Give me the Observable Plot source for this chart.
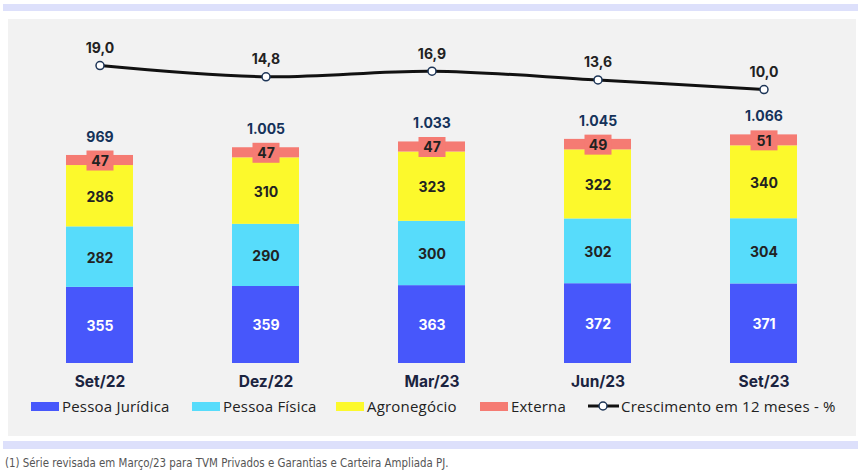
<!DOCTYPE html>
<html>
<head>
<meta charset="utf-8">
<script src="https://cdn.jsdelivr.net/npm/d3@7"></script>
<script src="https://cdn.jsdelivr.net/npm/@observablehq/plot@0.6"></script>
<style>
  html, body { margin: 0; padding: 0; background: #ffffff; }
  body { width: 862px; height: 475px; position: relative; overflow: hidden; font-family: "Open Sans", sans-serif; }
  .band { position: absolute; left: 3px; width: 855px; background: #dde0fb; }
  #panel { position: absolute; left: 8px; top: 19px; width: 848px; height: 417px; background: #f2f2f2; }
  #chart { position: absolute; left: 0; top: 0; }
  .leg { position: absolute; top: 378px; height: 18px; display: flex; align-items: center; font-size: 15px; color: #222; letter-spacing: 0.2px; white-space: nowrap; }
  .sw { width: 28px; height: 9px; margin-right: 3px; }
  #foot { position: absolute; left: 5px; top: 456px; font-family: "Liberation Sans Narrow", "DejaVu Sans Condensed", sans-serif; font-size: 11.4px; color: #555; white-space: nowrap; }
</style>
</head>
<body>
<div class="band" style="top:4px;height:7px"></div>
<div id="panel"><div id="chart"></div><div id="legend"></div></div>
<div class="band" style="top:441px;height:8px"></div>
<div id="foot">(1) Série revisada em Março/23 para TVM Privados e Garantias e Carteira Ampliada PJ.</div>
<script>
const periods = ["Set/22", "Dez/22", "Mar/23", "Jun/23", "Set/23"];
const segments = ["Pessoa Jurídica", "Pessoa Física", "Agronegócio", "Externa"];
const colors = ["#4757fb", "#57dcfb", "#fcf92c", "#f57b73"];
const pessoaJuridica = [355, 359, 363, 372, 371];
const pessoaFisica = [282, 290, 300, 302, 304];
const agronegocio = [286, 310, 323, 322, 340];
const externa = [47, 47, 47, 49, 51];
const totals = [969, 1005, 1033, 1045, 1066];
const growth = [19.0, 14.8, 16.9, 13.6, 10.0];
const lineLabel = "Crescimento em 12 meses - %";

const loc = d3.formatLocale({decimal: ",", thousands: ".", grouping: [3], currency: ["", ""]});
const fmtInt = loc.format(",d");
const fmt1 = loc.format(".1f");

const series = [pessoaJuridica, pessoaFisica, agronegocio, externa];
const rows = [];
periods.forEach((p, i) => {
  let acc = 0;
  series.forEach((s, k) => {
    const v = s[i];
    rows.push({period: p, segment: segments[k], value: v, y1: acc, y2: acc + v, mid: acc + v / 2});
    acc += v;
  });
});
const totalRows = periods.map((p, i) => ({period: p, total: totals[i], top: rows.filter(r => r.period === p).slice(-1)[0].y2}));
const growthRows = periods.map((p, i) => ({period: p, g: growth[i]}));
// secondary axis for the growth line, mapped into the bar scale
const gBase = 1153, gStep = 12.43;
const gy = d => gBase + gStep * d.g;

const boxSymbol = { draw(ctx) { ctx.rect(-13.5, -10, 27, 20); } };
const labelFont = "Inter, sans-serif";

const chart = Plot.plot({
  width: 848, height: 376,
  marginTop: 0, marginBottom: 32, marginLeft: 8, marginRight: 9,
  style: {background: "transparent", fontFamily: labelFont},
  x: {type: "band", domain: periods, paddingInner: 0.596, paddingOuter: 0.3, axis: null},
  y: {domain: [0, 1604], axis: null},
  color: {domain: segments, range: colors},
  marks: [
    Plot.rectY(rows, {x: "period", y1: "y1", y2: "y2", fill: "segment"}),
    Plot.dot(rows.filter(r => r.segment === "Externa"), {x: "period", y: "mid", symbol: boxSymbol, r: 10, fill: colors[3], stroke: null}),
    Plot.text(rows.filter(r => r.segment !== "Pessoa Jurídica"), {x: "period", y: "mid", text: d => fmtInt(d.value), fill: "#222", fontSize: 14, fontWeight: "bold", dy: 1}),
    Plot.text(rows.filter(r => r.segment === "Pessoa Jurídica"), {x: "period", y: "mid", text: d => fmtInt(d.value), fill: "white", fontSize: 14, fontWeight: "bold", dy: 1}),
    Plot.text(totalRows, {x: "period", y: "top", text: d => fmtInt(d.total), dy: -18, fill: "#15325a", fontSize: 14, fontWeight: "bold"}),
    Plot.line(growthRows, {x: "period", y: gy, curve: "catmull-rom", stroke: "#111", strokeWidth: 3}),
    Plot.dot(growthRows, {x: "period", y: gy, r: 4, fill: "white", stroke: "#1d3557", strokeWidth: 1.5}),
    Plot.text(growthRows, {x: "period", y: gy, text: d => fmt1(d.g), dy: -17, fill: "#222", fontSize: 14, fontWeight: "bold"}),
    Plot.axisX({tickSize: 0, tickPadding: 12, fontSize: 15.5, fontWeight: "bold", color: "#1b2440", label: null})
  ]
});
document.getElementById("chart").appendChild(chart);

// legend
const legend = document.getElementById("legend");
const legX = [23, 184, 328, 472];
segments.forEach((s, k) => {
  const d = document.createElement("div");
  d.className = "leg";
  d.style.left = legX[k] + "px";
  d.innerHTML = `<div class="sw" style="background:${colors[k]}"></div><span>${s}</span>`;
  legend.appendChild(d);
});
const dl = document.createElement("div");
dl.className = "leg";
dl.style.left = "579px";
dl.innerHTML = `<svg width="33" height="12" style="margin-right:1px"><line x1="1" y1="6" x2="32" y2="6" stroke="#111" stroke-width="3"/><circle cx="16" cy="6" r="4" fill="white" stroke="#1d3557" stroke-width="1.5"/></svg><span>${lineLabel}</span>`;
legend.appendChild(dl);
</script>
</body>
</html>
